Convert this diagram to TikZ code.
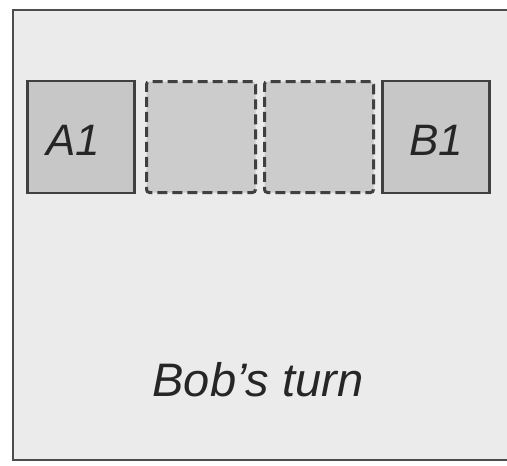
\documentclass[tikz,border=0pt]{standalone}
\usepackage{fontspec}
\setmainfont{Liberation Sans}
\begin{document}
\begin{tikzpicture}[x=1pt,y=-1pt,
  framebox/.style={draw=black!70,line width=2.6pt,fill=black!8},
  solidbox/.style={draw=black!75,line width=2.8pt,fill=black!22,minimum width=107pt,minimum height=112pt,inner sep=0pt},
  ghostbox/.style={draw=black!75,line width=3pt,dash pattern=on 10pt off 5pt,rounded corners=3pt,fill=black!20,minimum width=109pt,minimum height=111pt,inner sep=0pt},
  lbl/.style={font=\fontsize{44}{44}\selectfont\itshape,text=black!85}]
\useasboundingbox (0,0) rectangle (507,466);
\fill[white] (0,0) rectangle (507,466);
\path[framebox] (13,10) -- (512,10) -- (512,460) -- (13,460) -- cycle;
\node[solidbox] (a1) at (81,137) {};
\node[lbl,anchor=center] (a1t) at (73,140) {A1};
\node[ghostbox] (g1) at (201,137) {};
\node[ghostbox] (g2) at (319,137) {};
\node[solidbox] (b1) at (436,137) {};
\node[lbl,anchor=center] (b1t) at (436,140) {B1};
\node[lbl,font=\fontsize{47}{47}\selectfont\itshape] (turn) at (258,380) {Bob's turn};
\end{tikzpicture}
\end{document}
